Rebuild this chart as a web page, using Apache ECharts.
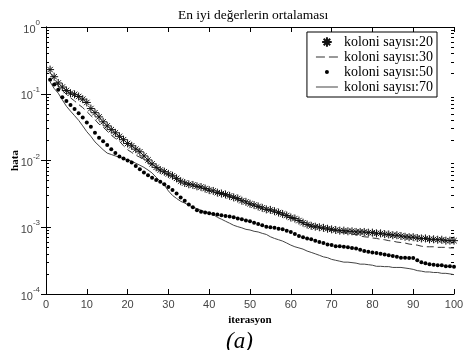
<!DOCTYPE html>
<html>
<head>
<meta charset="utf-8">
<script src="https://cdn.jsdelivr.net/npm/echarts@6/dist/echarts.min.js"></script>
<style>
  html, body { margin: 0; padding: 0; background: #fff; }
  #chart { width: 466px; height: 350px; }
</style>
</head>
<body>
<div id="chart"></div>
<script>
// iterations 1..100
var iterations = [];
for (var i = 1; i <= 100; i++) iterations.push(i);

var xTicks = [0, 10, 20, 30, 40, 50, 60, 70, 80, 90, 100];
var yTicks = [1e-4, 1e-3, 1e-2, 1e-1, 1];

// koloni sayisi:20 (stars)
var hata20 = [
  0.23, 0.18, 0.145, 0.126, 0.112, 0.102, 0.098, 0.091, 0.083, 0.074,
  0.060, 0.052, 0.045, 0.038, 0.033, 0.029, 0.026, 0.023, 0.0205, 0.018,
  0.0166, 0.0148, 0.0135, 0.0117, 0.0102, 0.0089, 0.0079, 0.0072, 0.0068, 0.0063,
  0.0059, 0.0054, 0.0049, 0.0046, 0.0044, 0.0043, 0.0041, 0.0040, 0.0038, 0.0036,
  0.0035, 0.0033, 0.0032, 0.0031, 0.00295, 0.0028, 0.0027, 0.0025, 0.0024, 0.00225,
  0.00215, 0.00205, 0.00195, 0.00185, 0.00182, 0.00174, 0.00166, 0.00158, 0.0015, 0.0014,
  0.00135, 0.00126, 0.00117, 0.0011, 0.00105, 0.00102, 0.0010, 0.00098, 0.00095, 0.00093,
  0.00091, 0.00089, 0.00089, 0.00087, 0.00087, 0.00085, 0.00085, 0.00085, 0.00083, 0.00083,
  0.00081, 0.00081, 0.00079, 0.00078, 0.00076, 0.00076, 0.00074, 0.00072, 0.00071, 0.00071,
  0.00069, 0.00068, 0.00068, 0.00066, 0.00066, 0.00065, 0.00065, 0.00063, 0.00063, 0.00063
];

// koloni sayisi:30 (dashed)
var hata30 = [
  0.209, 0.166, 0.132, 0.112, 0.098, 0.087, 0.078, 0.069, 0.062, 0.054,
  0.047, 0.041, 0.035, 0.032, 0.0275, 0.024, 0.0214, 0.0195, 0.0166, 0.0145,
  0.0132, 0.012, 0.0112, 0.0105, 0.0095, 0.0085, 0.0078, 0.0071, 0.0065, 0.0060,
  0.0056, 0.0052, 0.0049, 0.0047, 0.0045, 0.0043, 0.0041, 0.0039, 0.0037, 0.0035,
  0.0034, 0.0032, 0.0032, 0.0030, 0.0029, 0.0028, 0.0026, 0.0025, 0.0023, 0.0022,
  0.0021, 0.0020, 0.0019, 0.0018, 0.0018, 0.0017, 0.0016, 0.00155, 0.00148, 0.00138,
  0.00132, 0.00123, 0.00115, 0.00107, 0.00102, 0.0010, 0.00098, 0.00095, 0.00093, 0.00091,
  0.00089, 0.00085, 0.00083, 0.00081, 0.00079, 0.00078, 0.00074, 0.00072, 0.00071, 0.00069,
  0.00068, 0.00066, 0.00065, 0.00063, 0.00062, 0.00060, 0.00059, 0.00058, 0.00056, 0.00055,
  0.00054, 0.00052, 0.00051, 0.00051, 0.00051, 0.00050, 0.00050, 0.00050, 0.00049, 0.00049
];

// koloni sayisi:50 (dots)
var hata50 = [
  0.162, 0.138, 0.115, 0.089, 0.078, 0.068, 0.059, 0.051, 0.044, 0.037,
  0.032, 0.026, 0.022, 0.0195, 0.017, 0.0148, 0.0129, 0.0115, 0.0107, 0.0100,
  0.0093, 0.0083, 0.0074, 0.0066, 0.0060, 0.0055, 0.0051, 0.0048, 0.0044, 0.0040,
  0.0036, 0.0032, 0.0028, 0.0025, 0.0022, 0.0020, 0.0018, 0.0017, 0.00166, 0.00162,
  0.00158, 0.00155, 0.00151, 0.00148, 0.00145, 0.00141, 0.00135, 0.00132, 0.00126, 0.00123,
  0.00117, 0.00112, 0.00107, 0.00102, 0.0010, 0.00098, 0.00095, 0.00093, 0.00089, 0.00085,
  0.00079, 0.00074, 0.00071, 0.00068, 0.00066, 0.00063, 0.00060, 0.00058, 0.00055, 0.00054,
  0.00052, 0.00052, 0.00051, 0.00050, 0.00049, 0.00048, 0.00046, 0.00044, 0.00043, 0.00042,
  0.00041, 0.00040, 0.00039, 0.00038, 0.00037, 0.00036, 0.00035, 0.00035, 0.000347, 0.000347,
  0.00032, 0.00030, 0.00029, 0.00028, 0.000275, 0.00027, 0.00027, 0.00026, 0.00026, 0.000257
];

// koloni sayisi:70 (solid)
var hata70 = [
  0.151, 0.12, 0.102, 0.081, 0.065, 0.055, 0.047, 0.040, 0.033, 0.027,
  0.023, 0.019, 0.0166, 0.0145, 0.0129, 0.0123, 0.0117, 0.0112, 0.0107, 0.0102,
  0.0098, 0.0091, 0.0085, 0.0079, 0.0072, 0.0065, 0.0056, 0.0049, 0.0043, 0.0035,
  0.0030, 0.0027, 0.00245, 0.0023, 0.00214, 0.0020, 0.0019, 0.0018, 0.0017, 0.00166,
  0.00155, 0.00141, 0.00132, 0.00123, 0.00115, 0.00107, 0.00102, 0.00098, 0.00093, 0.00091,
  0.00087, 0.00085, 0.00081, 0.00078, 0.00072, 0.00068, 0.00065, 0.00062, 0.00058, 0.00054,
  0.00051, 0.00049, 0.00047, 0.00044, 0.00042, 0.00040, 0.00038, 0.00036, 0.00035, 0.00033,
  0.00032, 0.00031, 0.00030, 0.00030, 0.000295, 0.00029, 0.00028, 0.00028, 0.000275, 0.00027,
  0.00026, 0.00026, 0.000257, 0.000257, 0.00025, 0.00025, 0.00025, 0.000245, 0.00024, 0.000234,
  0.000224, 0.00022, 0.000214, 0.000214, 0.00021, 0.00021, 0.000204, 0.000204, 0.0002, 0.000195
];

var seriesNames = ['koloni sayısı:20', 'koloni sayısı:30', 'koloni sayısı:50', 'koloni sayısı:70'];

// minor tick positions 2..9 in each decade
var minorTicks = [];
for (var d = 1e-4; d < 1; d *= 10) {
  for (var k = 2; k <= 9; k++) minorTicks.push(+(k * d).toPrecision(3));
}

function pairs(vals) {
  return iterations.map(function (it, idx) { return [it, vals[idx]]; });
}

var starPath = 'path://M5,0L5,10M0,5L10,5M1.6,1.6L8.4,8.4M8.4,1.6L1.6,8.4';
// legend icons, each padded to a 24x12 box with two tiny corner points
var iconBox = 'M0,0h0.01v0.01h-0.01zM24,12h0.01v0.01h-0.01z';
var iconDash = 'path://' + iconBox + 'M1,5.5H10V6.5H1ZM14,5.5H23V6.5H14Z';
var iconLine = 'path://' + iconBox + 'M1,5.5H23V6.5H1Z';
var iconDot = 'path://' + iconBox + 'M10,6a2,2 0 1,0 4,0a2,2 0 1,0 -4,0Z';

var serifFont = 'Liberation Serif';
var sansFont = 'Liberation Sans';

var chart = echarts.init(document.getElementById('chart'));

var baseY = {
  type: 'log',
  logBase: 10,
  min: 1e-4,
  max: 1,
  splitLine: { show: false },
  axisLine: { show: true, lineStyle: { color: '#000', width: 1 } }
};

var option = {
  animation: false,
  backgroundColor: '#fff',
  title: [
    {
      text: 'En iyi değerlerin ortalaması',
      left: 173,
      top: 3,
      textStyle: { fontFamily: serifFont, fontSize: 13.5, fontWeight: 'normal', color: '#000' }
    },
    {
      text: '(a)',
      left: 221,
      top: 325,
      textStyle: { fontFamily: serifFont, fontSize: 23, fontStyle: 'italic', fontWeight: 'normal', color: '#000' }
    }
  ],
  legend: {
    orient: 'vertical',
    right: 29,
    top: 32,
    padding: [3, 4, 3, 8],
    itemWidth: 24,
    itemHeight: 12,
    itemGap: 1,
    borderColor: '#000',
    borderWidth: 1,
    backgroundColor: '#fff',
    textStyle: { fontFamily: serifFont, fontSize: 14, color: '#000' },
    data: [
      { name: seriesNames[0] },
      { name: seriesNames[1], icon: iconDash },
      { name: seriesNames[2], icon: iconDot },
      { name: seriesNames[3], icon: iconLine }
    ]
  },
  grid: { left: 46, right: 12, top: 27, bottom: 56, outerBoundsMode: 'none' },
  xAxis: [
    {
      type: 'value', min: 0, max: 100, interval: 10, position: 'bottom',
      name: 'iterasyon', nameLocation: 'middle', nameGap: 17,
      nameTextStyle: { fontFamily: serifFont, fontSize: 11, fontWeight: 'bold', color: '#000' },
      axisLine: { lineStyle: { color: '#000' } },
      axisTick: { inside: true, length: 5, lineStyle: { color: '#000' } },
      axisLabel: { margin: 5, fontFamily: sansFont, fontSize: 11, color: '#444',
        customValues: xTicks },
      splitLine: { show: false }
    },
    {
      type: 'value', min: 0, max: 100, interval: 10, position: 'top',
      axisLine: { lineStyle: { color: '#000' } },
      axisTick: { inside: true, length: 5, lineStyle: { color: '#000' } },
      axisLabel: { show: false },
      splitLine: { show: false }
    }
  ],
  yAxis: [
    Object.assign({}, baseY, {
      position: 'left',
      name: 'hata', nameLocation: 'middle', nameGap: 25, nameRotate: 90,
      nameMoveOverlap: false,
      nameTextStyle: { fontFamily: serifFont, fontSize: 11, fontWeight: 'bold', color: '#000' },
      axisTick: { show: true, inside: true, length: 5, lineStyle: { color: '#000' },
        customValues: yTicks },
      axisLabel: {
        margin: 6,
        customValues: yTicks,
        formatter: function (v) {
          var e = Math.round(Math.log(v) / Math.LN10);
          return '{b|10}{e|' + e + '}';
        },
        rich: {
          b: { fontFamily: sansFont, fontSize: 11, color: '#444', lineHeight: 16, verticalAlign: 'bottom' },
          e: { fontFamily: sansFont, fontSize: 8, color: '#444', lineHeight: 16, verticalAlign: 'top' }
        }
      }
    }),
    Object.assign({}, baseY, {
      position: 'right',
      axisTick: { show: true, inside: true, length: 5, lineStyle: { color: '#000' },
        customValues: yTicks },
      axisLabel: { show: false }
    }),
    Object.assign({}, baseY, {
      position: 'left',
      axisLine: { show: false },
      axisTick: { show: true, inside: true, length: 3, lineStyle: { color: '#000' },
        customValues: minorTicks },
      axisLabel: { show: false }
    }),
    Object.assign({}, baseY, {
      position: 'right',
      axisLine: { show: false },
      axisTick: { show: true, inside: true, length: 3, lineStyle: { color: '#000' },
        customValues: minorTicks },
      axisLabel: { show: false }
    })
  ],
  series: [
    {
      name: seriesNames[1],
      type: 'line',
      data: pairs(hata30),
      symbol: 'none',
      lineStyle: { color: '#333', width: 1, type: [7, 4] },
      itemStyle: { color: '#333' },
      z: 2
    },
    {
      name: seriesNames[3],
      type: 'line',
      data: pairs(hata70),
      symbol: 'none',
      lineStyle: { color: '#444', width: 1 },
      itemStyle: { color: '#444' },
      z: 2
    },
    {
      name: seriesNames[0],
      type: 'line',
      data: pairs(hata20),
      symbol: starPath,
      symbolSize: 8,
      showAllSymbol: true,
      lineStyle: { width: 0 },
      itemStyle: { color: '#000', borderColor: '#111', borderWidth: 1 },
      z: 3
    },
    {
      name: seriesNames[2],
      type: 'line',
      data: pairs(hata50),
      symbol: 'circle',
      symbolSize: 4,
      showAllSymbol: true,
      lineStyle: { width: 0 },
      itemStyle: { color: '#000' },
      z: 3
    }
  ]
};

chart.setOption(option);
</script>
</body>
</html>
